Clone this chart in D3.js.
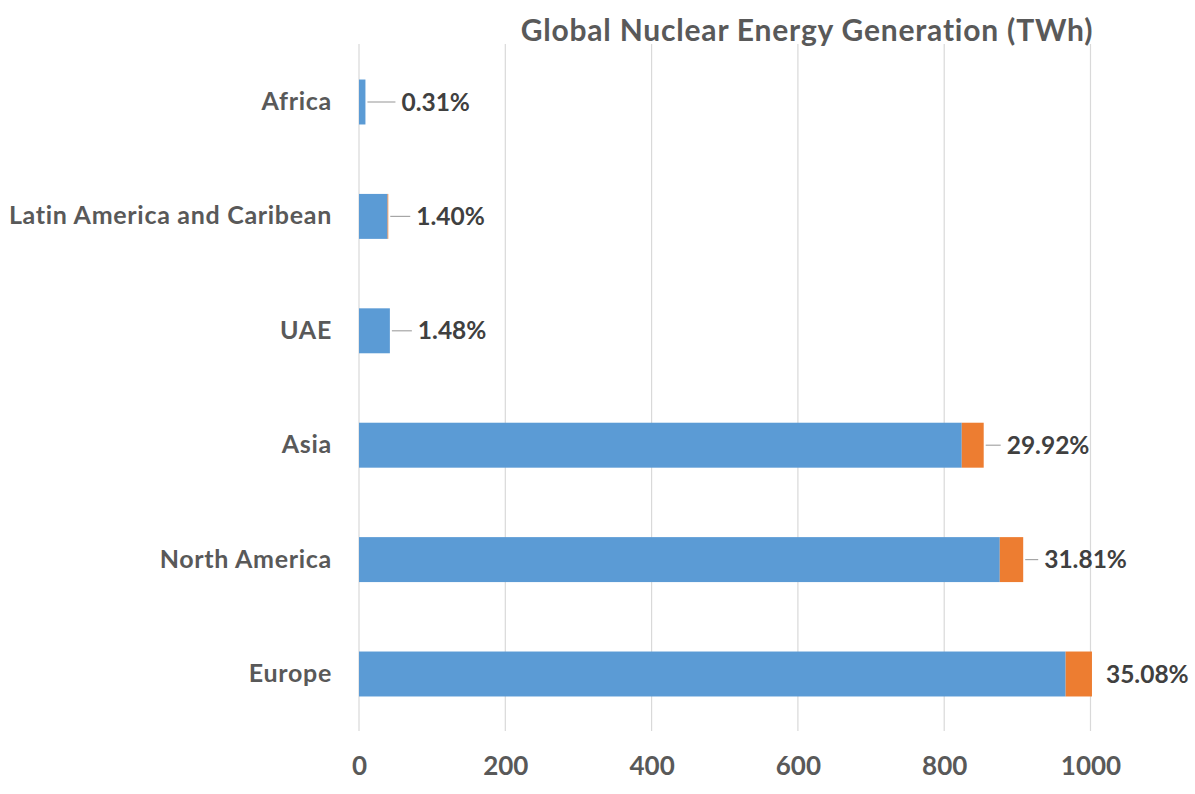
<!DOCTYPE html>
<html>
<head>
<meta charset="utf-8">
<script src="https://cdn.jsdelivr.net/npm/d3@7"></script>
<style>
  html, body { margin: 0; padding: 0; background: #ffffff; }
  svg { display: block; }
  svg text { font-family: Lato, "Open Sans", sans-serif; }
</style>
</head>
<body>
<svg id="chart" width="1195" height="794"></svg>
<script>
// ---- data ----
const categories = ["Africa", "Latin America and Caribean", "UAE", "Asia", "North America", "Europe"];
const seriesBlue = [8.8, 39, 42.2, 824, 876, 966];
const seriesOrange = [0, 1, 0, 30, 32, 36];
const shareLabels = ["0.31%", "1.40%", "1.48%", "29.92%", "31.81%", "35.08%"];
const xTicks = [0, 200, 400, 600, 800, 1000];
const titleText = "Global Nuclear Energy Generation (TWh)";

// ---- layout (not data) ----
const labelGap = [36, 28, 28, 23, 21, 14];

const svg = d3.select("#chart");
const x = d3.scaleLinear().domain([0, 1000]).range([359, 1090.5]);
const y = d3.scaleBand().domain(categories).range([44.8, 731.2]).paddingInner(0.607).paddingOuter(0.3035);

const rows = categories.map((c, i) => ({
  cat: c, blue: seriesBlue[i], orange: seriesOrange[i], label: shareLabels[i], gap: labelGap[i]
}));

// gridlines
svg.append("g").selectAll("line").data(xTicks).join("line")
  .attr("x1", d => x(d)).attr("x2", d => x(d))
  .attr("y1", 44).attr("y2", 731)
  .attr("stroke", "#d9d9d9").attr("stroke-width", 1.2);

// x tick labels via axis
const xAxis = d3.axisBottom(x).tickValues(xTicks).tickSize(0).tickPadding(0).tickFormat(d3.format("d"));
const gx = svg.append("g").attr("transform", "translate(0,757)").call(xAxis)
  .attr("font-family", null).attr("font-size", null);
gx.select(".domain").remove();
gx.selectAll("text")
  .attr("dy", "0.71em")
  .attr("fill", "#595959")
  .style("font-size", "26px").style("font-weight", "700");

// y category labels via axis
const yAxis = d3.axisLeft(y).tickSize(0).tickPadding(0);
const gy = svg.append("g").attr("transform", "translate(332,0)").call(yAxis)
  .attr("font-family", null).attr("font-size", null);
gy.select(".domain").remove();
gy.selectAll("text")
  .attr("fill", "#595959")
  .style("font-size", "25px").style("font-weight", "700").style("letter-spacing", "0.7px");

// bars
const gb = svg.append("g");
gb.selectAll("rect.blue").data(rows).join("rect").attr("class", "blue")
  .attr("x", x(0)).attr("y", d => y(d.cat))
  .attr("width", d => x(d.blue) - x(0)).attr("height", y.bandwidth())
  .attr("fill", "#5B9BD5");
gb.selectAll("rect.orange").data(rows.filter(d => d.orange > 0)).join("rect").attr("class", "orange")
  .attr("x", d => x(d.blue)).attr("y", d => y(d.cat))
  .attr("width", d => x(d.blue + d.orange) - x(d.blue)).attr("height", y.bandwidth())
  .attr("fill", "#ED7D31");

// leader lines
svg.append("g").selectAll("line").data(rows.filter(d => d.gap > 16)).join("line")
  .attr("x1", d => x(d.blue + d.orange) + 2)
  .attr("x2", d => x(d.blue + d.orange) + d.gap - 6)
  .attr("y1", d => y(d.cat) + y.bandwidth() / 2)
  .attr("y2", d => y(d.cat) + y.bandwidth() / 2)
  .attr("stroke", "#a6a6a6").attr("stroke-width", 1.2);

// data labels
svg.append("g").selectAll("text").data(rows).join("text")
  .attr("x", d => x(d.blue + d.orange) + d.gap)
  .attr("y", d => y(d.cat) + y.bandwidth() / 2)
  .attr("dy", "0.35em")
  .attr("fill", "#404040")
  .style("font-size", "24.5px").style("font-weight", "700")
  .text(d => d.label);

// title
svg.append("text")
  .attr("x", 807).attr("y", 41)
  .attr("text-anchor", "middle")
  .attr("fill", "#595959")
  .style("font-size", "30px").style("font-weight", "700").style("letter-spacing", "0.8px")
  .text(titleText);
</script>
</body>
</html>
